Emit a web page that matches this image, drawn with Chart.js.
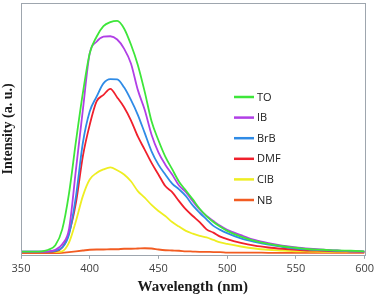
<!DOCTYPE html>
<html>
<head>
<meta charset="utf-8">
<script src="https://cdn.jsdelivr.net/npm/chart.js@4/dist/chart.umd.min.js"></script>
<style>
  html, body { margin: 0; padding: 0; background: #fff; }
  #wrap { width: 377px; height: 297px; }
</style>
</head>
<body>
<div id="wrap"><canvas id="chart" width="377" height="297"></canvas></div>
<script>
// wavelength grid (nm)
const wavelengths = [350,355,360,365,370,375,380,385,390,395,400,405,410,415,420,425,430,435,440,445,450,455,460,465,470,475,480,485,490,495,500,510,520,530,540,550,560,570,580,590,600];

// intensities (a.u., 0-100 = plot height)
const toVals  = [1.3,1.3,1.3,1.4,2.0,3.8,10.1,24.6,45.1,64.2,80.0,86.6,90.8,92.4,92.9,89.9,83.5,75.4,64.8,53.0,45.5,39.0,34.0,29.0,25.5,22.0,18.3,15.4,13.0,11.1,9.5,7.2,5.5,4.3,3.4,2.8,2.2,2.0,1.7,1.6,1.4];
const ibVals  = [1.3,1.3,1.3,1.3,1.4,2.0,4.2,10.4,33.9,57.5,80.0,84.6,86.6,86.8,85.5,81.9,76.0,65.5,57.6,47.7,40.7,35.8,31.9,27.5,24.9,21.3,18.0,15.4,13.4,11.5,9.9,7.8,5.9,4.6,3.6,2.9,2.4,2.0,1.7,1.4,1.3];
const brbVals = [1.3,1.3,1.3,1.3,1.3,1.6,2.9,8.2,23.3,44.4,56.9,62.8,68.1,69.8,69.7,66.5,61.5,55.6,48.4,41.1,35.8,31.9,28.3,26.0,23.3,19.6,16.7,14.1,11.5,9.9,8.6,6.5,5.1,4.0,3.2,2.5,2.1,1.8,1.6,1.4,1.3];
const dmfVals = [1.2,1.2,1.2,1.2,1.2,1.4,2.9,8.8,20.7,39.1,51.6,60.9,63.5,65.9,62.5,58.6,53.4,47.0,41.8,36.5,31.9,27.3,24.9,21.3,18.0,15.4,13.0,10.1,8.8,7.2,6.2,4.7,3.6,2.9,2.4,2.0,1.7,1.6,1.4,1.3,1.2];
const clbVals = [1.1,1.1,1.1,1.1,1.1,1.1,1.4,4.9,13.4,23.3,29.9,32.5,33.9,34.7,33.6,31.9,29.2,25.3,22.7,19.8,17.4,15.4,13.0,11.2,9.5,8.4,7.5,6.9,5.9,4.9,4.3,3.3,2.5,2.0,1.7,1.4,1.3,1.2,1.2,1.1,1.1];
const nbVals  = [0.7,0.7,0.7,0.7,0.7,0.7,0.8,1.1,1.4,1.7,2.0,2.1,2.1,2.2,2.2,2.4,2.4,2.5,2.6,2.5,2.1,1.8,1.7,1.6,1.4,1.3,1.2,1.2,1.1,1.1,0.9,0.9,0.9,0.8,0.8,0.8,0.8,0.8,0.8,0.8,0.8];

const seriesNames  = ['TO', 'IB', 'BrB', 'DMF', 'ClB', 'NB'];
const seriesColors = ['#3ee63a', '#b13fe6', '#2f8be6', '#f0202c', '#eeee22', '#f25c22'];
const xTicks = [350, 400, 450, 500, 550, 600];

const allVals = [toVals, ibVals, brbVals, dmfVals, clbVals, nbVals];

const datasets = seriesNames.map((name, i) => ({
  label: name,
  data: wavelengths.map((w, j) => ({ x: w, y: allVals[i][j] })),
  borderColor: seriesColors[i],
  backgroundColor: seriesColors[i],
  borderWidth: 1.8,
  pointRadius: 0,
  cubicInterpolationMode: 'monotone',
  fill: false
}));

// frame round the plot area + legend inside it
const framePlugin = {
  id: 'frame',
  afterDraw(chart) {
    const { ctx, chartArea: a } = chart;
    ctx.save();
    ctx.strokeStyle = '#9ea6ae';
    ctx.lineWidth = 1;
    ctx.strokeRect(Math.round(a.left) + 0.5, Math.round(a.top) + 0.5, Math.round(a.right - a.left), Math.round(a.bottom - a.top));
    // legend
    ctx.font = '11px "Open Sans", "Liberation Sans", sans-serif';
    ctx.textBaseline = 'middle';
    chart.data.datasets.forEach((ds, i) => {
      const y = 97 + i * 20.6;
      ctx.strokeStyle = ds.borderColor;
      ctx.lineWidth = 2.5;
      ctx.beginPath();
      ctx.moveTo(234, y);
      ctx.lineTo(254, y);
      ctx.stroke();
      ctx.fillStyle = '#1a1a1a';
      ctx.fillText(ds.label, 257, y + 0.5);
    });
    ctx.restore();
  }
};

new Chart(document.getElementById('chart'), {
  type: 'line',
  data: { datasets },
  options: {
    responsive: false,
    animation: false,
    layout: { padding: { top: 3, right: 10, left: 0, bottom: 0 } },
    plugins: { legend: { display: false }, tooltip: { enabled: false } },
    scales: {
      x: {
        type: 'linear',
        min: 350,
        max: 600,
        afterBuildTicks: (scale) => { scale.ticks = xTicks.map(v => ({ value: v })); },
        grid: { display: true, drawOnChartArea: false, drawTicks: true, tickLength: 4, color: '#9ea6ae' },
        border: { display: false },
        ticks: { color: '#404040', font: { size: 11, family: '"Open Sans", "Liberation Sans", sans-serif' }, padding: 3, maxRotation: 0 },
        title: { display: true, text: 'Wavelength (nm)', color: '#1a1a1a', font: { size: 15, weight: 'bold', family: '"Liberation Serif", "DejaVu Serif", serif' }, padding: { top: 0, bottom: 1 } }
      },
      y: {
        min: 0,
        max: 100,
        afterFit: (scale) => { scale.width = 21; },
        grid: { display: false },
        border: { display: false },
        ticks: { display: false },
        title: { display: true, text: 'Intensity (a. u.)', color: '#1a1a1a', font: { size: 14, weight: 'bold', family: '"Liberation Serif", "DejaVu Serif", serif' }, padding: { top: 0, bottom: 0 } }
      }
    }
  },
  plugins: [framePlugin]
});
</script>
</body>
</html>
